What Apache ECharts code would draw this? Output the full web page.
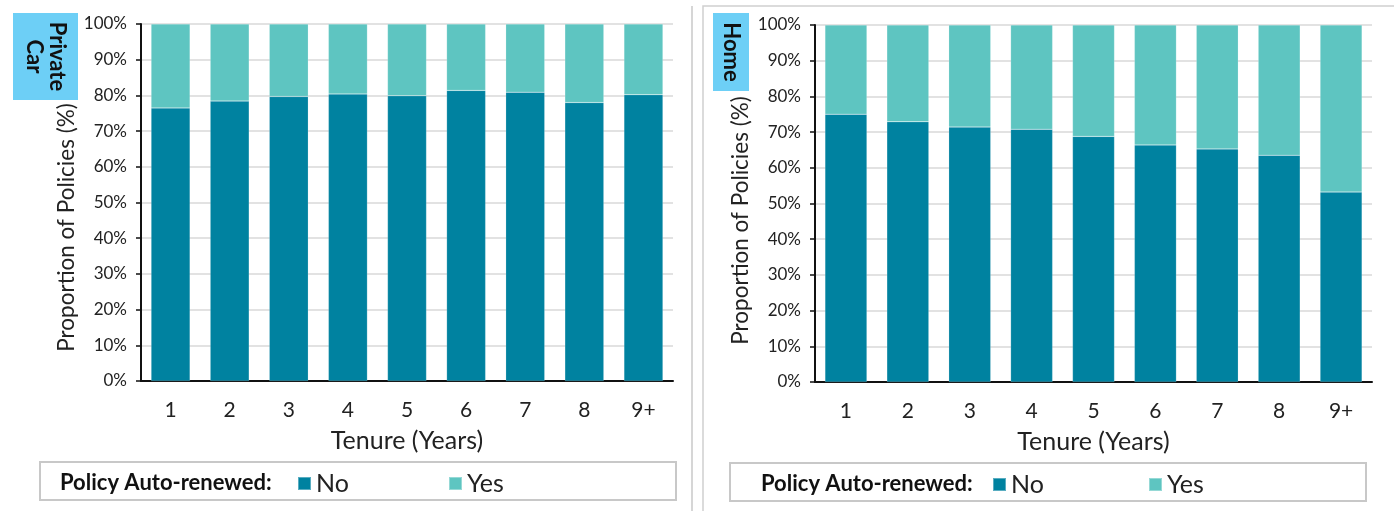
<!DOCTYPE html>
<html>
<head>
<meta charset="utf-8">
<script src="https://cdn.jsdelivr.net/npm/echarts@6/dist/echarts.min.js"></script>
<style>
  html, body { margin: 0; padding: 0; background: #fff; }
  #chart { width: 1394px; height: 511px; }
</style>
</head>
<body>
<div id="chart"></div>
<script>
// tenure buckets
const tenure = ['1', '2', '3', '4', '5', '6', '7', '8', '9+']
// share of policies NOT auto-renewed (%)
const carNo = [76.5, 78.4, 79.7, 80.4, 79.9, 81.4, 80.9, 78.0, 80.2]
const homeNo = [75.0, 72.9, 71.4, 70.8, 68.8, 66.4, 65.3, 63.5, 53.2]
// the remainder is auto-renewed
const carYes = carNo.map(v => +(100 - v).toFixed(1))
const homeYes = homeNo.map(v => +(100 - v).toFixed(1))
const yTicks = ['0%', '10%', '20%', '30%', '40%', '50%', '60%', '70%', '80%', '90%', '100%']

const colNo = '#0082A0'
const colYes = '#5EC5C1'
const font = 'Lato'

const chart = echarts.init(document.getElementById('chart'))

function xAxis (gridIndex) {
  return {
    type: 'category',
    gridIndex,
    data: tenure,
    name: 'Tenure (Years)',
    nameLocation: 'middle',
    nameGap: 47,
    nameTextStyle: { fontFamily: font, fontSize: 25, color: '#222' },
    axisLine: { lineStyle: { color: '#111', width: 2 } },
    axisTick: { show: false },
    axisLabel: { margin: 19, fontFamily: font, fontSize: 21, color: '#222' }
  }
}

// shift: pushes the rotated title down the axis, as in the picture
function yAxis (gridIndex, shift) {
  return {
    type: 'value',
    gridIndex,
    min: 0,
    max: 100,
    interval: 10,
    name: 'Proportion of Policies (%)',
    nameLocation: 'middle',
    nameGap: 63,
    nameTextStyle: { fontFamily: font, fontSize: 22.5, color: '#222', padding: [0, shift, 0, 0] },
    axisLine: { show: true, lineStyle: { color: '#111', width: 2 } },
    axisTick: { show: true, length: 5, lineStyle: { color: '#111', width: 1.5 } },
    axisLabel: {
      margin: 14,
      fontFamily: font,
      fontSize: 17,
      color: '#222',
      formatter: (v) => yTicks[Math.round(v / 10)]
    },
    splitLine: { lineStyle: { color: '#d9d9d9', width: 1.5 } }
  }
}

function bars (name, data, color, idx, width) {
  return {
    name,
    type: 'bar',
    stack: 'p' + idx,
    xAxisIndex: idx,
    yAxisIndex: idx,
    barWidth: width,
    data,
    itemStyle: { color, borderColor: 'rgba(255,255,255,0.35)', borderWidth: 0.5 },
    emphasis: { disabled: true }
  }
}

function legendItem (name, left, top) {
  return {
    data: [name],
    left,
    top,
    icon: 'rect',
    itemWidth: 13,
    itemHeight: 13,
    itemGap: 0,
    padding: 0,
    selectedMode: false,
    textStyle: { fontFamily: font, fontSize: 25, color: '#222' }
  }
}

function tag (text, x, y, w, h) {
  return [
    { type: 'rect', shape: { x, y, width: w, height: h }, style: { fill: '#6DCFF6' } },
    {
      type: 'text',
      x: x + w / 2,
      y: y + h / 2,
      rotation: -Math.PI / 2,
      style: {
        text,
        fontFamily: font,
        fontWeight: 'bold',
        fontSize: 22,
        lineHeight: 23,
        fill: '#111',
        align: 'center',
        verticalAlign: 'middle'
      }
    }
  ]
}

function legendBox (x, y, w, h, pad) {
  return [
    { type: 'rect', shape: { x, y, width: w, height: h }, style: { fill: 'none', stroke: '#c8c8c8', lineWidth: 2 } },
    {
      type: 'text',
      x: x + pad,
      y: y + h / 2 + 2,
      style: {
        text: 'Policy Auto-renewed:',
        fontFamily: font,
        fontWeight: 'bold',
        fontSize: 22,
        fill: '#111',
        verticalAlign: 'middle'
      }
    }
  ]
}

chart.setOption({
  animation: false,
  grid: [
    { left: 141, right: 721, top: 24, bottom: 130 },
    { left: 815, right: 22, top: 25, bottom: 129 }
  ],
  xAxis: [xAxis(0), xAxis(1)],
  yAxis: [yAxis(0, 50), yAxis(1, 34)],
  legend: [
    legendItem('No', 297, 471),
    legendItem('Yes', 448, 471),
    legendItem('No', 992, 472),
    legendItem('Yes', 1148, 472)
  ],
  series: [
    bars('No', carNo, colNo, 0, 39),
    bars('Yes', carYes, colYes, 0, 39),
    bars('No', homeNo, colNo, 1, 42),
    bars('Yes', homeYes, colYes, 1, 42)
  ],
  graphic: [
    { type: 'line', shape: { x1: 692, y1: 6, x2: 692, y2: 511 }, style: { stroke: '#c8c8c8', lineWidth: 1.5 } },
    { type: 'rect', shape: { x: 703, y: 6, width: 800, height: 600 }, style: { fill: 'none', stroke: '#d0d0d0', lineWidth: 1.5 } },
    ...tag('Private\nCar', 13, 13, 65, 87),
    ...tag('Home', 713, 13, 36, 78),
    ...legendBox(40, 462, 636, 38, 20),
    ...legendBox(730, 463, 636, 38, 31)
  ]
})
</script>
</body>
</html>
